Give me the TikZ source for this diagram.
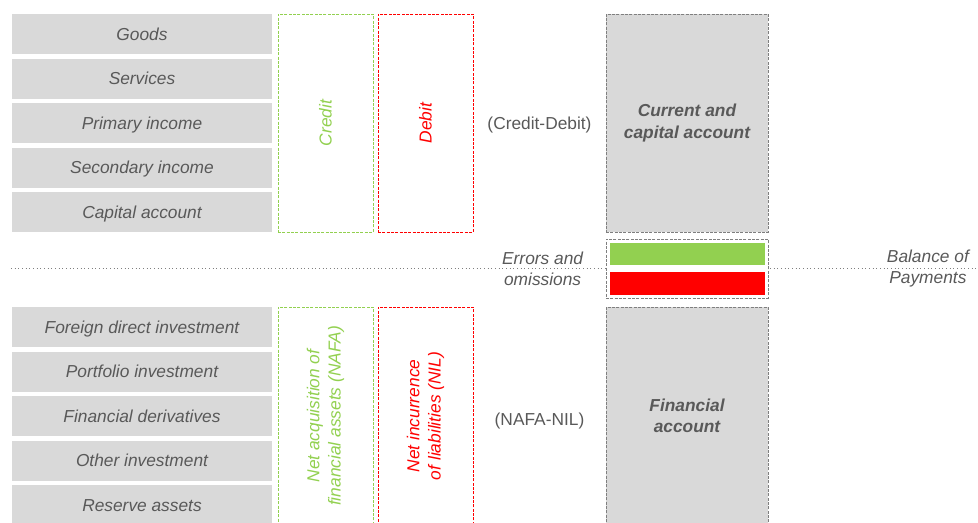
\documentclass[tikz,border=0pt]{standalone}
\usepackage{fontspec}
\setmainfont{Liberation Sans}
\usetikzlibrary{positioning,calc}

\definecolor{boxgrey}{HTML}{D9D9D9}
\definecolor{textgrey}{HTML}{595959}
\definecolor{linegrey}{HTML}{7F7F7F}
\definecolor{creditgreen}{HTML}{92D050}
\definecolor{debitred}{HTML}{FF0000}

\tikzset{
  txt/.style={font=\fontsize{13}{16}\selectfont, text=textgrey},
  lbl/.style={font=\fontsize{13}{16}\selectfont\itshape, text=textgrey},
  row/.style={lbl, fill=boxgrey, minimum width=195pt, minimum height=30pt,
    text height=9.4pt, text depth=0pt, inner sep=0pt, outer sep=0pt},
  side/.style={minimum width=71.25pt, minimum height=163.5pt, inner sep=0pt, outer sep=0pt,
    line width=0.75pt, dash pattern=on 2.25pt off 1pt},
  acct/.style={side, draw=linegrey, fill=boxgrey, minimum width=121.5pt,
    font=\fontsize{13}{16}\selectfont\bfseries\itshape, text=textgrey, align=center},
  bar/.style={minimum width=116.25pt, minimum height=17pt, inner sep=0pt, outer sep=0pt},
}

\begin{document}
\begin{tikzpicture}[x=0.75pt,y=0.75pt]
    \useasboundingbox (0,0) rectangle (978,-522);
    \coordinate (lineL) at (11,-268.7);
    \coordinate (lineR) at (978,-268.7);
    \draw[linegrey, line width=0.75pt, dotted] (lineL) -- (lineR);

    % current and capital account
    \node[row] (goods) at (142,-34) {Goods};
    \node[row, below=3.375pt of goods] (serv) {Services};
    \node[row, below=3.375pt of serv] (prim) {Primary income};
    \node[row, below=3.375pt of prim] (sec) {Secondary income};
    \node[row, below=3.375pt of sec] (cap) {Capital account};

    \node[side, draw=creditgreen, right=4.5pt of goods.north east, anchor=north west] (credit1) {};
    \node[side, draw=debitred, right=3.75pt of credit1] (debit1) {};
    \node[lbl, rotate=90, text=creditgreen] (creditlbl) at (credit1) {Credit};
    \node[lbl, rotate=90, text=debitred] (debitlbl) at (debit1) {Debit};

    \node[acct, right=99.75pt of debit1] (ca) {Current and\\capital account};
    \node[txt, yshift=-1.5pt] (cd) at ($(debit1.east)!0.5!(ca.west)$) {(Credit-Debit)};

    % errors and omissions
    \node[side, draw=linegrey, fill=white, minimum width=121.5pt, minimum height=44.25pt,
      below=5.25pt of ca] (eo) {};
    \node[bar, fill=creditgreen, above=2.5pt of eo.center] (eogreen) {};
    \node[bar, fill=debitred, below=2.5pt of eo.center] (eored) {};
    \node[lbl, align=center, inner sep=0pt, left=17pt of eo] (eolbl) {Errors and\\omissions};
    \node[lbl, align=center, inner sep=0pt, right=89pt of eo] (boplbl) {Balance of\\Payments};

    % financial account
    \node[acct, below=6.75pt of eo] (fa) {Financial\\account};

    \node[row, anchor=north] (fdi) at (goods |- fa.north) {Foreign direct investment};
    \node[row, below=3.375pt of fdi] (port) {Portfolio investment};
    \node[row, below=3.375pt of port] (deriv) {Financial derivatives};
    \node[row, below=3.375pt of deriv] (other) {Other investment};
    \node[row, below=3.375pt of other] (res) {Reserve assets};

    \node[side, draw=creditgreen, right=4.5pt of fdi.north east, anchor=north west] (credit2) {};
    \node[side, draw=debitred, right=3.75pt of credit2] (debit2) {};
    \node[lbl, rotate=90, align=center, text=creditgreen] (nafalbl) at (credit2)
      {Net acquisition of\\financial assets (NAFA)};
    \node[lbl, rotate=90, align=center, text=debitred] (nillbl) at (debit2)
      {Net incurrence\\of liabilities (NIL)};
    \node[txt, yshift=-4pt] (nn) at ($(debit2.east)!0.5!(fa.west)$) {(NAFA-NIL)};
\end{tikzpicture}
\end{document}
